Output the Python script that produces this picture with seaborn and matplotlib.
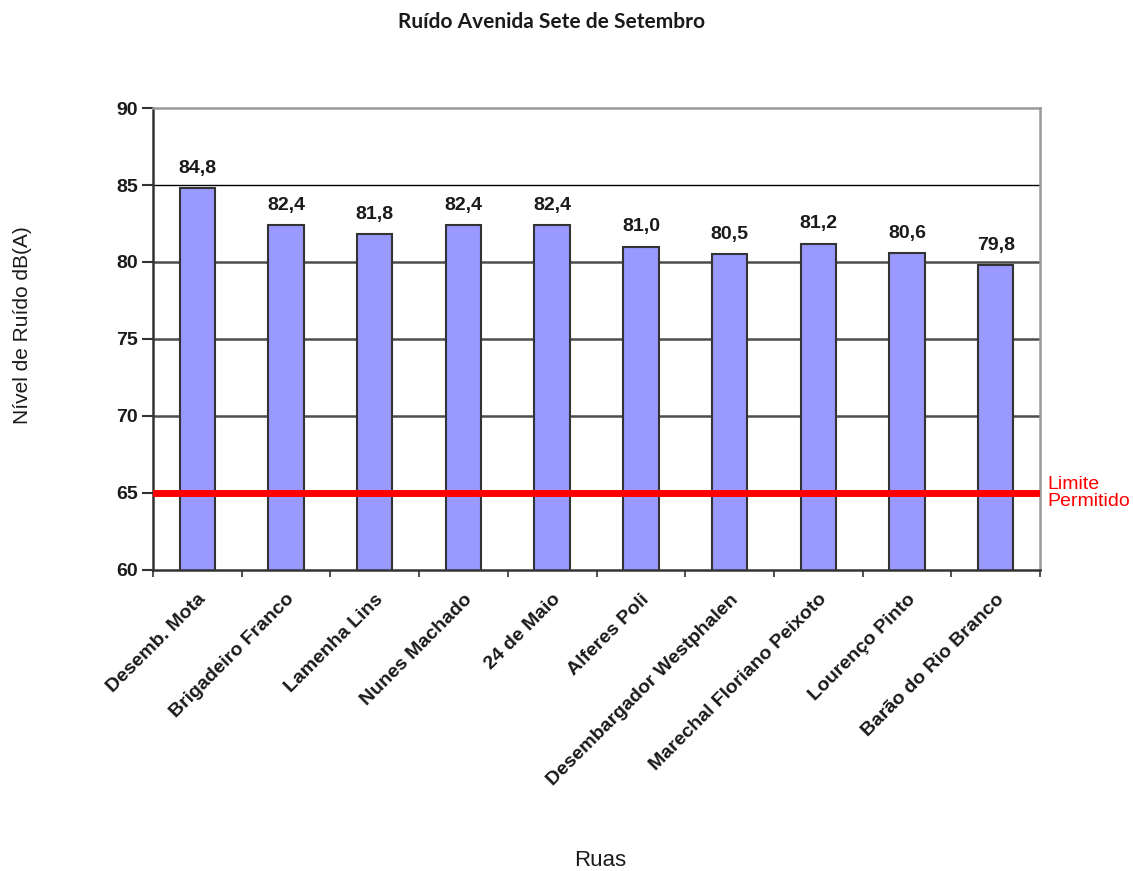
import matplotlib
matplotlib.use("Agg")
import matplotlib.pyplot as plt
import seaborn as sns
import numpy as np

categories = ["Desemb. Mota", "Brigadeiro Franco", "Lamenha Lins", "Nunes Machado",
              "24 de Maio", "Alferes Poli", "Desembargador Westphalen",
              "Marechal Floriano Peixoto", "Lourenço Pinto", "Barão do Rio Branco"]
values = [84.8, 82.4, 81.8, 82.4, 82.4, 81.0, 80.5, 81.2, 80.6, 79.8]
limit_value = 65
yticks = [60, 65, 70, 75, 80, 85, 90]

sns.set_theme(style="white")
plt.rcParams['font.family'] = ['Liberation Sans', 'DejaVu Sans']

fig = plt.figure(figsize=(11.33, 8.71), dpi=100)
ax = fig.add_axes([0.135, 0.3456, 0.783, 0.5304])

# grid lines
for yv in [70, 75, 80]:
    ax.axhline(yv, color='#4d4d4d', lw=1.8, zorder=0)
ax.axhline(85, color='black', lw=1.0, zorder=0)

sns.barplot(x=categories, y=values, color='#9999FF', saturation=1, width=0.4,
            edgecolor='#333333', linewidth=1.5, ax=ax, zorder=2)

ax.axhline(limit_value, color='#FF0000', lw=5, zorder=3)

for i, v in enumerate(values):
    ax.annotate(f"{v:.1f}".replace('.', ','), xy=(i, v), xytext=(0, 8),
                textcoords='offset points', ha='center', va='bottom',
                fontsize=14, fontweight='bold', color='#1a1a1a')

ax.set_ylim(60, 90)
ax.set_xlim(-0.5, len(categories) - 0.5)
ax.set_yticks(yticks)
ax.set_yticklabels([str(t) for t in yticks], fontsize=14, fontweight='bold', color='#1a1a1a')

ax.set_xticks(range(len(categories)))
ax.set_xticklabels(categories, rotation=45, ha='right', rotation_mode='anchor',
                   fontsize=14, fontweight='bold', color='#1a1a1a')
ax.tick_params(axis='x', which='major', length=0, pad=15)
ax.set_xticks(np.arange(-0.5, len(categories), 1.0), minor=True)
ax.tick_params(axis='x', which='minor', length=5, width=1.2, color='#333333', direction='out', bottom=True)
ax.tick_params(axis='y', length=8, width=1.5, color='#333333', direction='out', left=True, pad=3)

for side in ['left', 'bottom']:
    ax.spines[side].set_color('#333333')
    ax.spines[side].set_linewidth(1.8)
for side in ['top', 'right']:
    ax.spines[side].set_color('#9a9a9a')
    ax.spines[side].set_linewidth(1.8)

ax.set_xlabel("")
ax.set_ylabel("")

fig.text(0.487, 0.975, "Ruído Avenida Sete de Setembro", ha='center', va='center',
         fontsize=15, fontweight='bold', family=['Lato', 'DejaVu Sans'], color='#1a1a1a')
fig.text(0.0195, 0.627, "Nível de Ruído dB(A)", rotation=90, ha='center', va='center',
         fontsize=15, color='#1a1a1a')
fig.text(0.53, 0.0115, "Ruas", ha='center', va='center', fontsize=16, color='#1a1a1a')

ax.text(1.008, limit_value, "Limite\nPermitido", transform=ax.get_yaxis_transform(),
        ha='left', va='center', fontsize=14, color='#FF0000', linespacing=1.0)

fig.savefig("out.png", dpi=100)
